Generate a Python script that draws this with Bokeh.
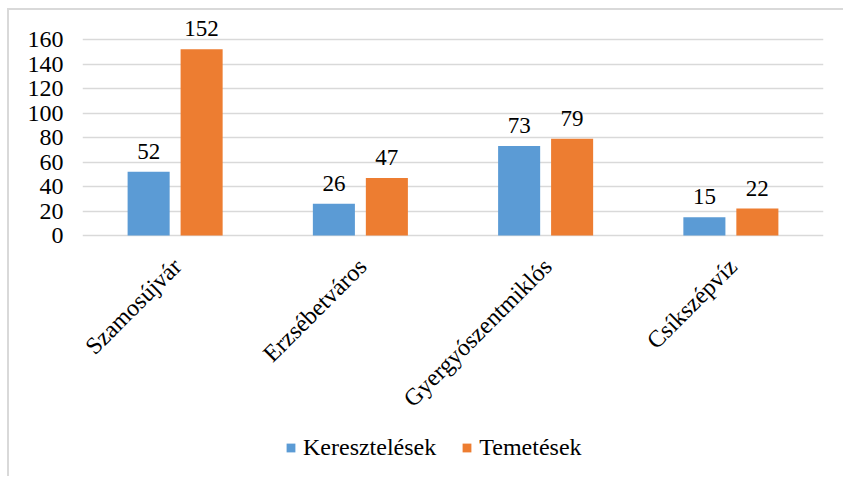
from bokeh.plotting import figure
from bokeh.models import ColumnDataSource, FactorRange, Range1d, FixedTicker, Legend, LegendItem
from bokeh.transform import dodge
from bokeh.core.properties import value
from bokeh.embed import file_html
from bokeh.resources import INLINE
import math

categories = ["Szamosújvár", "Erzsébetváros", "Gyergyószentmiklós", "Csíkszépvíz"]
keresztelesek = [52, 26, 73, 15]
temetesek = [152, 47, 79, 22]
y_ticks = [0, 20, 40, 60, 80, 100, 120, 140, 160]

FONT = "Liberation Serif"
BLUE = "#5B9BD5"
ORANGE = "#ED7D31"
GRID = "#d9d9d9"

src = ColumnDataSource(dict(
    cat=categories,
    zero=[0] * len(categories),
    k=keresztelesek,
    t=temetesek,
    kl=[str(v) for v in keresztelesek],
    tl=[str(v) for v in temetesek],
))

# frame covers the lower area too, so the rotated category labels and the legend are not clipped
p = figure(frame_width=741, frame_height=466, output_backend="svg", toolbar_location=None,
           x_range=FactorRange(factors=categories, range_padding=0),
           y_range=Range1d(-196.7, 183.7),
           min_border_left=73, min_border_right=20, min_border_top=0, min_border_bottom=0)
p.styles = {"margin-left": "7px", "margin-top": "8px",
            "border-top": "2px solid #d9d9d9", "border-left": "2px solid #d9d9d9"}
p.outline_line_color = None
p.background_fill_color = "white"
p.border_fill_color = "white"

rk = p.vbar(x=dodge("cat", -0.143, range=p.x_range), top="k", width=0.227, source=src,
            fill_color=BLUE, line_color=None)
rt = p.vbar(x=dodge("cat", 0.143, range=p.x_range), top="t", width=0.227, source=src,
            fill_color=ORANGE, line_color=None)

for col, lab, off in (("k", "kl", -0.143), ("t", "tl", 0.143)):
    p.text(x=dodge("cat", off, range=p.x_range), y=col, text=lab, source=src,
           text_font=value(FONT), text_font_size="23px", text_color="black",
           text_align="center", text_baseline="bottom", y_offset=-13)

# category labels, rotated 45 degrees
p.text(x="cat", y="zero", text="cat", source=src, angle=math.pi / 4,
       text_font=value(FONT), text_font_size="24px", text_color="black",
       text_align="right", text_baseline="middle", x_offset=2, y_offset=27)

p.yaxis.ticker = FixedTicker(ticks=y_ticks)
p.ygrid.ticker = FixedTicker(ticks=y_ticks)
p.ygrid.grid_line_color = GRID
p.ygrid.grid_line_width = 1.5
p.xgrid.grid_line_color = None
p.xaxis.visible = False

ax = p.yaxis[0]
ax.axis_line_color = None
ax.major_tick_line_color = None
ax.minor_tick_line_color = None
ax.major_tick_out = 0
ax.major_tick_in = 0
ax.major_label_text_font = FONT
ax.major_label_text_font_size = "24px"
ax.major_label_text_color = "black"
ax.major_label_standoff = 19

legend = Legend(items=[LegendItem(label="Keresztelések", renderers=[rk]),
                       LegendItem(label="Temetések", renderers=[rt])],
                orientation="horizontal", location=(203, 15),
                label_text_font=FONT, label_text_font_size="24px", label_text_color="black",
                glyph_width=11, glyph_height=11, spacing=25, label_standoff=7,
                border_line_color=None, background_fill_alpha=0, padding=2, margin=0)
p.add_layout(legend, "center")

open("out.html", "w").write(file_html(p, INLINE))
